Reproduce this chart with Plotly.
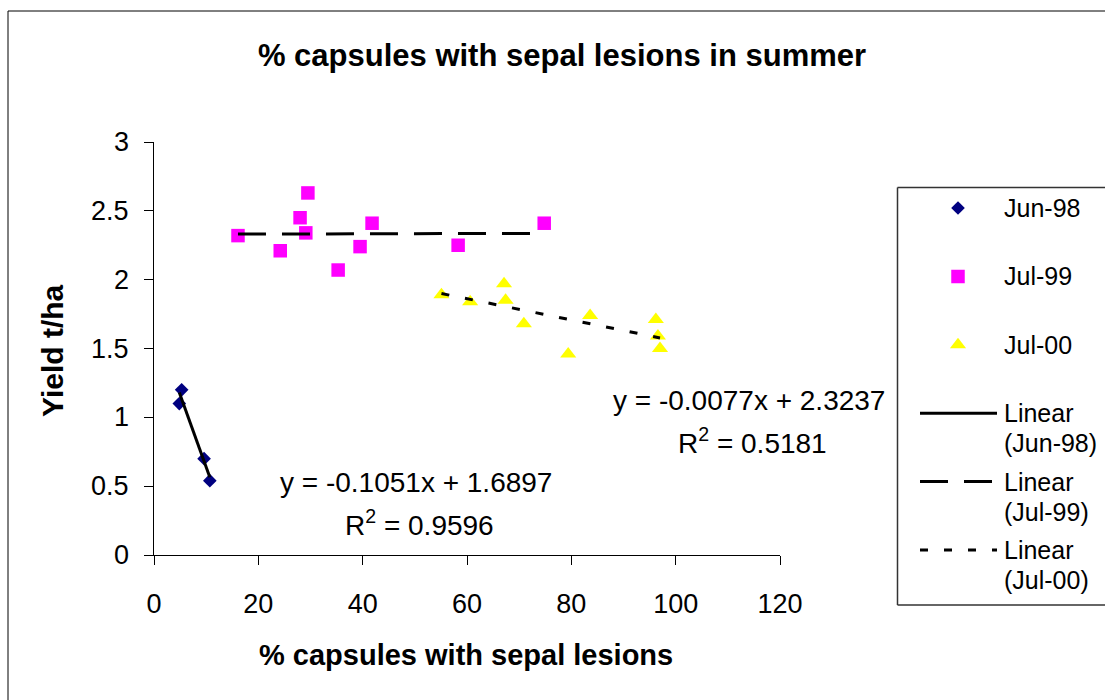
import numpy as np
import plotly.graph_objects as go

# ---- data -------------------------------------------------------------
series_names = ["Jun-98", "Jul-99", "Jul-00"]

jun98_x = [5.3, 4.85, 9.6, 10.7]
jun98_y = [1.20, 1.10, 0.70, 0.54]

jul99_x = [16.1, 24.2, 28.0, 29.5, 29.1, 35.3, 39.5, 41.8, 58.3, 74.8]
jul99_y = [2.32, 2.21, 2.45, 2.63, 2.34, 2.07, 2.24, 2.41, 2.25, 2.41]

jul00_x = [55.1, 60.6, 67.1, 67.4, 70.9, 79.4, 83.6, 96.2, 96.6, 97.0]
jul00_y = [1.89, 1.84, 1.97, 1.85, 1.68, 1.46, 1.74, 1.71, 1.59, 1.50]

# linear trend coefficients (slope, intercept, R^2) printed on the chart
jun98_fit = [-0.1051, 1.6897, 0.9596]
jul00_fit = [-0.0077, 2.3237, 0.5181]

x_ticks = [0, 20, 40, 60, 80, 100, 120]
y_ticks = [0, 0.5, 1, 1.5, 2, 2.5, 3]

# ---- page geometry (pixels) -------------------------------------------
W, H = 1105, 700
FONT = "Liberation Sans, Arial, sans-serif"


def px(x):
    return x / W


def py(y):
    return 1 - y / H


styles = {
    "Jun-98": dict(symbol="diamond", color="#000080", size=10.5),
    "Jul-99": dict(symbol="square", color="#FF00FF", size=13.5),
    "Jul-00": dict(symbol="triangle-up", color="#FFFF00", size=14),
}
trend_dash = {"Jun-98": "solid", "Jul-99": "28px,16px", "Jul-00": "8px,16px"}

xs = {"Jun-98": jun98_x, "Jul-99": jul99_x, "Jul-00": jul00_x}
ys = {"Jun-98": jun98_y, "Jul-99": jul99_y, "Jul-00": jul00_y}

# Jul-99 has no printed equation: least-squares fit
m99, b99 = np.polyfit(jul99_x, jul99_y, 1)
fits = {"Jun-98": jun98_fit[:2], "Jul-99": [m99, b99], "Jul-00": jul00_fit[:2]}

fig = go.Figure()

for name in series_names:
    st = styles[name]
    fig.add_trace(go.Scatter(
        x=xs[name], y=ys[name], mode="markers", name=name,
        marker=dict(symbol=st["symbol"], color=st["color"], size=st["size"],
                    line=dict(width=0)),
    ))

for name in series_names:
    m, b = fits[name]
    x0, x1 = min(xs[name]), max(xs[name])
    fig.add_trace(go.Scatter(
        x=[x0, x1], y=[m * x0 + b, m * x1 + b], mode="lines",
        name=f"Linear ({name})",
        line=dict(color="black", width=3, dash=trend_dash[name]),
    ))

# ---- legend drawn on its own hidden axes (pixel units) ----------------
LEG_ROW0, LEG_STEP = 208, 68.4
LEG_MARK_X = 958
LEG_LINE_X = [920, 997]
LEG_TEXT_X = 1002

annotations = []
for i, name in enumerate(series_names):
    st = styles[name]
    ry = LEG_ROW0 + i * LEG_STEP
    fig.add_trace(go.Scatter(
        x=[LEG_MARK_X], y=[ry], mode="markers", xaxis="x2", yaxis="y2",
        marker=dict(symbol=st["symbol"], color=st["color"], size=st["size"],
                    line=dict(width=0)),
        hoverinfo="skip",
    ))
    annotations.append(dict(text=name, x=px(LEG_TEXT_X), y=py(ry), xref="paper", yref="paper",
                            xanchor="left", yanchor="middle", showarrow=False,
                            font=dict(size=25)))
for i, name in enumerate(series_names):
    ry = LEG_ROW0 + (i + 3) * LEG_STEP
    fig.add_trace(go.Scatter(
        x=LEG_LINE_X, y=[ry, ry], mode="lines", xaxis="x2", yaxis="y2",
        line=dict(color="black", width=3, dash=trend_dash[name]),
        hoverinfo="skip",
    ))
    annotations.append(dict(text="Linear", x=px(LEG_TEXT_X), y=py(ry), xref="paper", yref="paper",
                            xanchor="left", yanchor="middle", showarrow=False,
                            font=dict(size=25)))
    annotations.append(dict(text=f"({name})", x=px(LEG_TEXT_X), y=py(ry + 30), xref="paper",
                            yref="paper", xanchor="left", yanchor="middle", showarrow=False,
                            font=dict(size=25)))

# ---- y tick labels, right-aligned against the axis ---------------------
for v in y_ticks:
    annotations.append(dict(text=f"{v:g}", x=px(131), y=v, xref="paper", yref="y",
                            xanchor="right", yanchor="middle", showarrow=False,
                            font=dict(size=27)))

# ---- trend equations --------------------------------------------------
def eq_labels(fit, cx, cy):
    m, b, r2 = fit
    sign = "+" if b >= 0 else "-"
    return [
        dict(text=f"y = {m:.4f}x {sign} {abs(b):.4f}", x=px(cx), y=py(cy), xref="paper",
             yref="paper", xanchor="center", yanchor="middle", showarrow=False,
             font=dict(size=28)),
        dict(text=f"R<sup>2</sup> = {r2:.4f}", x=px(cx + 3), y=py(cy + 41), xref="paper",
             yref="paper", xanchor="center", yanchor="middle", showarrow=False,
             font=dict(size=28)),
    ]


annotations += eq_labels(jun98_fit, 416, 482)
annotations += eq_labels(jul00_fit, 749, 400)

# ---- axis titles ------------------------------------------------------
annotations.append(dict(text="% capsules with sepal lesions", x=px(466), y=py(655),
                        xref="paper", yref="paper", xanchor="center", yanchor="middle",
                        showarrow=False, font=dict(size=29, weight="bold")))
annotations.append(dict(text="Yield t/ha", x=px(52), y=py(351), xref="paper", yref="paper",
                        xanchor="center", yanchor="middle", textangle=-90,
                        showarrow=False, font=dict(size=30, weight="bold")))


def seg(x0, y0, x1, y1, color, width):
    return dict(type="line", xref="paper", yref="paper", x0=px(x0), y0=py(y0),
                x1=px(x1), y1=py(y1), line=dict(color=color, width=width), layer="below")


shapes = [
    # chart frame (left and top edges lie inside the page)
    seg(8, 11, 1105, 11, "black", 1),
    seg(8, 11, 8, 700, "black", 1),
    # legend frame
    seg(897.5, 187.5, 1105, 187.5, "#333333", 1.5),
    seg(897.5, 187.5, 897.5, 605, "#333333", 1.5),
    seg(897.5, 605, 1105, 605, "#333333", 1.5),
]

axis_common = dict(showline=True, linecolor="black", linewidth=1, ticks="outside",
                   ticklen=9, tickcolor="black", tickwidth=1, showgrid=False,
                   zeroline=False, automargin=False, tickfont=dict(size=27, color="black"))

fig.update_layout(
    width=W, height=H, autosize=False,
    margin=dict(l=0, r=0, t=0, b=0, pad=0, autoexpand=False),
    paper_bgcolor="white", plot_bgcolor="white", showlegend=False,
    font=dict(family=FONT, color="black"),
    title=dict(text="% capsules with sepal lesions in summer", x=px(562), y=py(55),
               xref="paper", yref="paper", xanchor="center", yanchor="middle",
               automargin=False,
               font=dict(size=31, weight="bold", family=FONT, color="black")),
    xaxis=dict(domain=[px(154), px(780)], range=[0, 120], tickvals=x_ticks,
               anchor="y", ticklabelstandoff=16, **axis_common),
    yaxis=dict(domain=[py(555), py(142)], range=[0, 3], tickvals=y_ticks,
               showticklabels=False, anchor="x", **axis_common),
    xaxis2=dict(domain=[px(897.5), 1], range=[897.5, 1105], visible=False, anchor="y2",
                fixedrange=True, automargin=False),
    yaxis2=dict(domain=[py(605), py(187.5)], range=[605, 187.5], visible=False,
                anchor="x2", fixedrange=True, automargin=False),
    annotations=annotations,
    shapes=shapes,
)

fig.write_html("out.html")
